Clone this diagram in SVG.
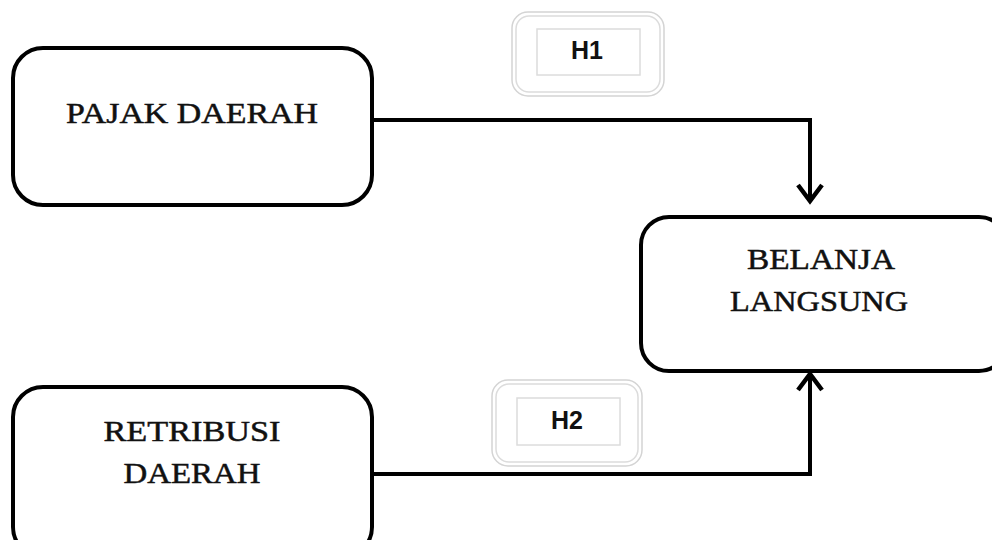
<svg xmlns="http://www.w3.org/2000/svg" width="992" height="540" viewBox="0 0 992 540">
  <defs>
    <style>
      .node { fill: #ffffff; stroke: #000000; stroke-width: 4; }
      .label { font-family: "Liberation Serif", "Times New Roman", serif; font-size: 30px; fill: #111111; stroke: #111111; stroke-width: 0.5; text-anchor: middle; }
      .wire { fill: none; stroke: #000000; stroke-width: 4; stroke-linejoin: miter; }
      .tag-outer { fill: #ffffff; stroke: #d4d4d4; stroke-width: 1.5; }
      .tag-inner { fill: none; stroke: #dcdcdc; stroke-width: 1.5; }
      .tag-text { font-family: "Liberation Sans", Arial, sans-serif; font-weight: bold; font-size: 25px; fill: #111111; text-anchor: middle; }
    </style>
    <marker id="chevron" viewBox="0 0 28 28" refX="24" refY="14" markerWidth="28" markerHeight="28" markerUnits="userSpaceOnUse" orient="auto">
      <path d="M7,2 L23,14 L7,26" fill="none" stroke="#000000" stroke-width="4.5" stroke-linejoin="miter"/>
    </marker>
  </defs>

  <rect width="992" height="540" fill="#ffffff"/>

  <!-- hypothesis tags -->
  <g id="tag-h1">
    <rect class="tag-outer" x="512" y="12" width="152" height="84" rx="16"/>
    <rect class="tag-inner" x="516" y="16" width="144" height="76" rx="13"/>
    <rect class="tag-inner" x="537" y="29" width="103" height="46"/>
    <text class="tag-text" x="587" y="59">H1</text>
  </g>
  <g id="tag-h2">
    <rect class="tag-outer" x="492" y="380" width="150" height="86" rx="16"/>
    <rect class="tag-inner" x="496" y="384" width="142" height="78" rx="13"/>
    <rect class="tag-inner" x="517" y="398" width="103" height="47"/>
    <text class="tag-text" x="567" y="429">H2</text>
  </g>

  <!-- connectors -->
  <g id="connectors">
    <path class="wire" d="M372,120 H810 V202" marker-end="url(#chevron)"/>
    <path class="wire" d="M372,474 H810 V373" marker-end="url(#chevron)"/>
  </g>

  <!-- nodes -->
  <g id="pajak-daerah">
    <rect class="node" x="13" y="48" width="359" height="157" rx="30"/>
    <text class="label" x="192" y="123" textLength="252" lengthAdjust="spacingAndGlyphs">PAJAK DAERAH</text>
  </g>
  <g id="retribusi-daerah">
    <rect class="node" x="13" y="387" width="359" height="170" rx="30"/>
    <text class="label" x="192" y="441" textLength="177" lengthAdjust="spacingAndGlyphs">RETRIBUSI</text>
    <text class="label" x="192" y="483" textLength="137" lengthAdjust="spacingAndGlyphs">DAERAH</text>
  </g>
  <g id="belanja-langsung">
    <rect class="node" x="641" y="217" width="366" height="154" rx="28"/>
    <text class="label" x="821" y="269" textLength="148" lengthAdjust="spacingAndGlyphs">BELANJA</text>
    <text class="label" x="819" y="311" textLength="178" lengthAdjust="spacingAndGlyphs">LANGSUNG</text>
  </g>
</svg>
